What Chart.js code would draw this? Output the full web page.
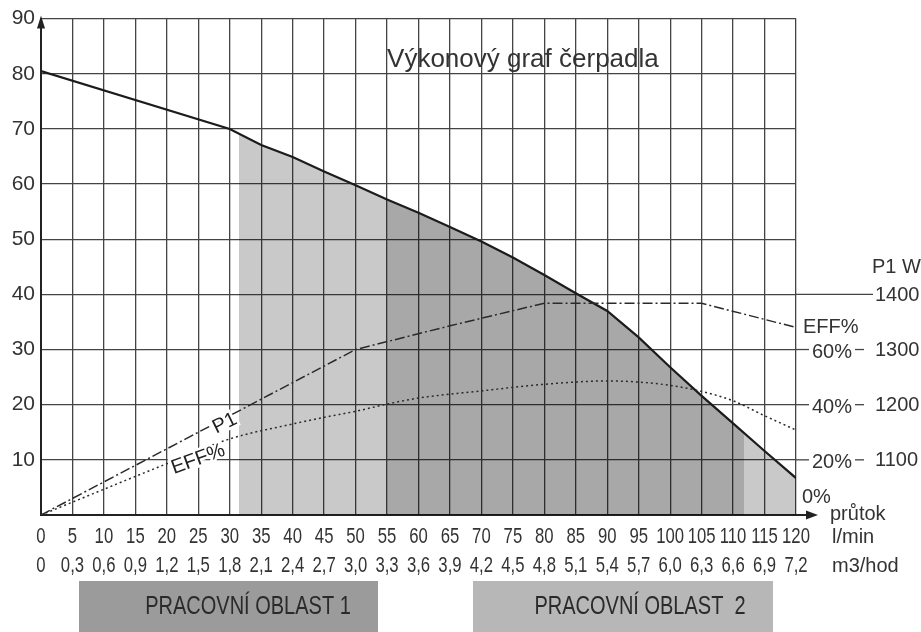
<!DOCTYPE html>
<html>
<head>
<meta charset="utf-8">
<script src="https://cdn.jsdelivr.net/npm/chart.js@4.4.1/dist/chart.umd.min.js"></script>
<style>
  html, body { margin: 0; padding: 0; background: #fff; }
  #wrap { width: 921px; height: 632px; }
</style>
</head>
<body>
<div id="wrap"><canvas id="pumpChart"></canvas></div>
<script>
// průtok (l/min) a dopravní výška (m) - hlavní křivka
const headX = [0, 30, 35, 40, 45, 50, 55, 60, 65, 70, 75, 80, 85, 90, 95, 100, 105, 110, 115, 120];
const headY = [80.5, 70, 67.1, 64.9, 62.3, 59.8, 57.2, 54.8, 52.2, 49.6, 46.7, 43.5, 40.2, 37, 32.2, 26.8, 21.6, 16.6, 11.6, 6.7];

// příkon P1 (čerchovaná), v jednotkách levé osy
const p1X = [0, 50, 65, 80, 105, 120];
const p1Y = [0, 30, 34.3, 38.4, 38.4, 34];

// účinnost EFF% (tečkovaná), v jednotkách levé osy
const effX = [0, 20, 30, 40, 45, 50, 55, 60, 70, 80, 90, 95, 100, 105, 110, 115, 120];
const effY = [0, 9.3, 13.8, 16.5, 17.7, 18.8, 20.1, 21.2, 22.5, 23.7, 24.3, 24.1, 23.5, 22.4, 20.7, 18, 15.4];

// pracovní oblasti (hranice v l/min)
const zoneEdges = [31.5, 55, 111.7];

// popisky os
const lminTicks = [0, 5, 10, 15, 20, 25, 30, 35, 40, 45, 50, 55, 60, 65, 70, 75, 80, 85, 90, 95, 100, 105, 110, 115, 120];
const m3Ticks = ["0", "0,3", "0,6", "0,9", "1,2", "1,5", "1,8", "2,1", "2,4", "2,7", "3,0", "3,3", "3,6", "3,9", "4,2", "4,5", "4,8", "5,1", "5,4", "5,7", "6,0", "6,3", "6,6", "6,9", "7,2"];
const rightTickPos = [10, 20, 30, 40];
const p1Ticks = ["1100", "1200", "1300", "1400"];
const effTicks = ["20%", "40%", "60%"];

const REG = "'Liberation Sans', Arial, sans-serif";
const TXT = "#333";

function toPoints(xs, ys) {
    return xs.map(function (x, i) { return { x: x, y: ys[i] }; });
}

// vodorovný gradient s ostrými přechody = šedé oblasti pod křivkou
function zoneFill(context) {
    const chart = context.chart;
    const area = chart.chartArea;
    if (!area) return "rgba(0,0,0,0)";
    const xs = chart.scales.x;
    const x0 = xs.getPixelForValue(0), x1 = xs.getPixelForValue(120);
    const g = chart.ctx.createLinearGradient(x0, 0, x1, 0);
    const f = zoneEdges.map(function (v) { return v / 120; });
    const none = "rgba(0,0,0,0)", light = "rgba(0,0,0,0.21)", dark = "rgba(0,0,0,0.34)";
    g.addColorStop(0, none);
    g.addColorStop(f[0], none);
    g.addColorStop(f[0], light);
    g.addColorStop(f[1], light);
    g.addColorStop(f[1], dark);
    g.addColorStop(f[2], dark);
    g.addColorStop(f[2], light);
    g.addColorStop(1, light);
    return g;
}

function line(ctx, x1, y1, x2, y2) {
    ctx.beginPath();
    ctx.moveTo(x1, y1);
    ctx.lineTo(x2, y2);
    ctx.stroke();
}

function haloText(ctx, text, x, y, angle) {
    ctx.save();
    ctx.translate(x, y);
    ctx.rotate(angle * Math.PI / 180);
    ctx.textAlign = "center";
    ctx.textBaseline = "middle";
    ctx.strokeStyle = "#fff";
    ctx.lineWidth = 5;
    ctx.strokeText(text, 0, 0);
    ctx.fillText(text, 0, 0);
    ctx.restore();
}

// úzké písmo (jako Arial Narrow) - vodorovně stlačený text
function narrowText(ctx, text, x, y, sx) {
    ctx.save();
    ctx.translate(x, y);
    ctx.scale(sx, 1);
    ctx.fillText(text, 0, 0);
    ctx.restore();
}

const overlay = {
    id: "overlay",
    afterDraw(chart) {
        const ctx = chart.ctx;
        const a = chart.chartArea;
        const xs = chart.scales.x, ys = chart.scales.y;
        const yp = function (v) { return ys.getPixelForValue(v); };
        const xp = function (v) { return xs.getPixelForValue(v); };
        ctx.save();

        // šipky os
        ctx.fillStyle = "#222";
        ctx.beginPath();
        ctx.moveTo(a.left, a.top - 3);
        ctx.lineTo(a.left - 4, a.top + 10);
        ctx.lineTo(a.left + 4, a.top + 10);
        ctx.closePath();
        ctx.fill();
        ctx.strokeStyle = "#222";
        ctx.lineWidth = 2;
        line(ctx, a.right, a.bottom, a.right + 12, a.bottom);
        ctx.beginPath();
        ctx.moveTo(a.right + 22, a.bottom);
        ctx.lineTo(a.right + 10, a.bottom - 4.5);
        ctx.lineTo(a.right + 10, a.bottom + 4.5);
        ctx.closePath();
        ctx.fill();

        // prodloužení mřížky k pravé ose
        ctx.strokeStyle = "#444";
        ctx.lineWidth = 1.3;
        [10, 20, 30].forEach(function (v) {
            line(ctx, a.right, yp(v), a.right + 13, yp(v));
            line(ctx, a.right + 59, yp(v), a.right + 68, yp(v));
        });
        line(ctx, a.right, yp(40), a.right + 77, yp(40));

        // popisky osy x (l/min a m3/hod)
        ctx.fillStyle = TXT;
        ctx.font = "22px " + REG;
        ctx.textAlign = "center";
        ctx.textBaseline = "alphabetic";
        lminTicks.forEach(function (v, i) {
            narrowText(ctx, String(v), xp(v), a.bottom + 28, 0.76);
            narrowText(ctx, m3Ticks[i], xp(v), a.bottom + 57, 0.76);
        });

        // pravá osa
        ctx.fillStyle = TXT;
        ctx.font = "20px " + REG;
        ctx.textBaseline = "middle";
        ctx.textAlign = "left";
        rightTickPos.forEach(function (v, i) {
            ctx.fillText(p1Ticks[i], a.right + 79, yp(v) + 1);
            if (i < effTicks.length) ctx.fillText(effTicks[i], a.right + 16, yp(v) + 3);
        });
        ctx.textBaseline = "alphabetic";
        ctx.fillText("P1 W", a.right + 76, yp(40) - 21);
        ctx.textBaseline = "middle";
        ctx.fillText("EFF%", a.right + 7, yp(34));
        ctx.fillText("0%", a.right + 6, a.bottom - 18);
        ctx.textBaseline = "alphabetic";
        ctx.fillText("průtok", a.right + 34, a.bottom + 5);
        ctx.fillText("l/min", a.right + 36, a.bottom + 28);
        ctx.fillText("m3/hod", a.right + 36, a.bottom + 57);

        // nadpis
        ctx.font = "26px " + REG;
        ctx.fillStyle = TXT;
        ctx.textAlign = "left";
        ctx.fillText("Výkonový graf čerpadla", xp(55), yp(81.2));

        // popisky křivek
        ctx.font = "20px " + REG;
        ctx.fillStyle = "#222";
        haloText(ctx, "P1", xp(29.2), yp(16.6), -26);
        haloText(ctx, "EFF%", xp(25), yp(10.1), -20);

        // pracovní oblasti
        ctx.fillStyle = "#9b9b9b";
        ctx.fillRect(79, 581, 299, 60);
        ctx.fillStyle = "#b7b7b7";
        ctx.fillRect(473, 581, 300, 60);
        ctx.fillStyle = "#2a2a2a";
        ctx.font = "25px " + REG;
        ctx.textAlign = "center";
        ctx.textBaseline = "middle";
        narrowText(ctx, "PRACOVNÍ OBLAST 1", 248, 607, 0.8);
        narrowText(ctx, "PRACOVNÍ OBLAST  2", 640, 607, 0.8);

        ctx.restore();
    },
};

document.addEventListener("DOMContentLoaded", function () {
    const ctx = document.getElementById("pumpChart").getContext("2d");
    new Chart(ctx, {
        type: "line",
        data: {
            datasets: [
                {
                    label: "H",
                    data: toPoints(headX, headY),
                    borderColor: "#1c1c1c",
                    borderWidth: 2.2,
                    backgroundColor: zoneFill,
                    fill: "origin",
                    tension: 0,
                    pointRadius: 0,
                    order: 3,
                },
                {
                    label: "P1",
                    data: toPoints(p1X, p1Y),
                    borderColor: "#2a2a2a",
                    borderWidth: 1.5,
                    borderDash: [10, 3, 2, 3],
                    fill: false,
                    tension: 0,
                    pointRadius: 0,
                    order: 1,
                },
                {
                    label: "EFF%",
                    data: toPoints(effX, effY),
                    borderColor: "#2a2a2a",
                    borderWidth: 1.5,
                    borderDash: [2, 3],
                    fill: false,
                    cubicInterpolationMode: "monotone",
                    pointRadius: 0,
                    order: 2,
                },
            ],
        },
        options: {
            responsive: true,
            maintainAspectRatio: false,
            animation: false,
            layout: {
                padding: { left: 0, top: 18, right: 125, bottom: 0 },
            },
            plugins: {
                legend: { display: false },
                tooltip: { enabled: false },
                filler: { drawTime: "beforeDatasetsDraw" },
            },
            scales: {
                x: {
                    type: "linear",
                    min: 0,
                    max: 120,
                    afterBuildTicks: function (scale) {
                        scale.ticks = lminTicks.map(function (v) { return { value: v }; });
                    },
                    afterFit: function (scale) {
                        scale.height = 117;
                    },
                    grid: { color: "#444", lineWidth: 1.3, drawTicks: false },
                    border: { color: "#222", width: 2 },
                    ticks: { display: false },
                },
                y: {
                    min: 0,
                    max: 90,
                    afterFit: function (scale) {
                        scale.width = 41;
                    },
                    grid: { color: "#444", lineWidth: 1.3, drawTicks: false },
                    border: { color: "#222", width: 2 },
                    ticks: {
                        stepSize: 10,
                        padding: 6,
                        color: TXT,
                        font: { family: REG, size: 21 },
                        callback: function (value) {
                            return value === 0 ? "" : value;
                        },
                    },
                },
            },
        },
        plugins: [overlay],
    });
});
</script>
</body>
</html>
